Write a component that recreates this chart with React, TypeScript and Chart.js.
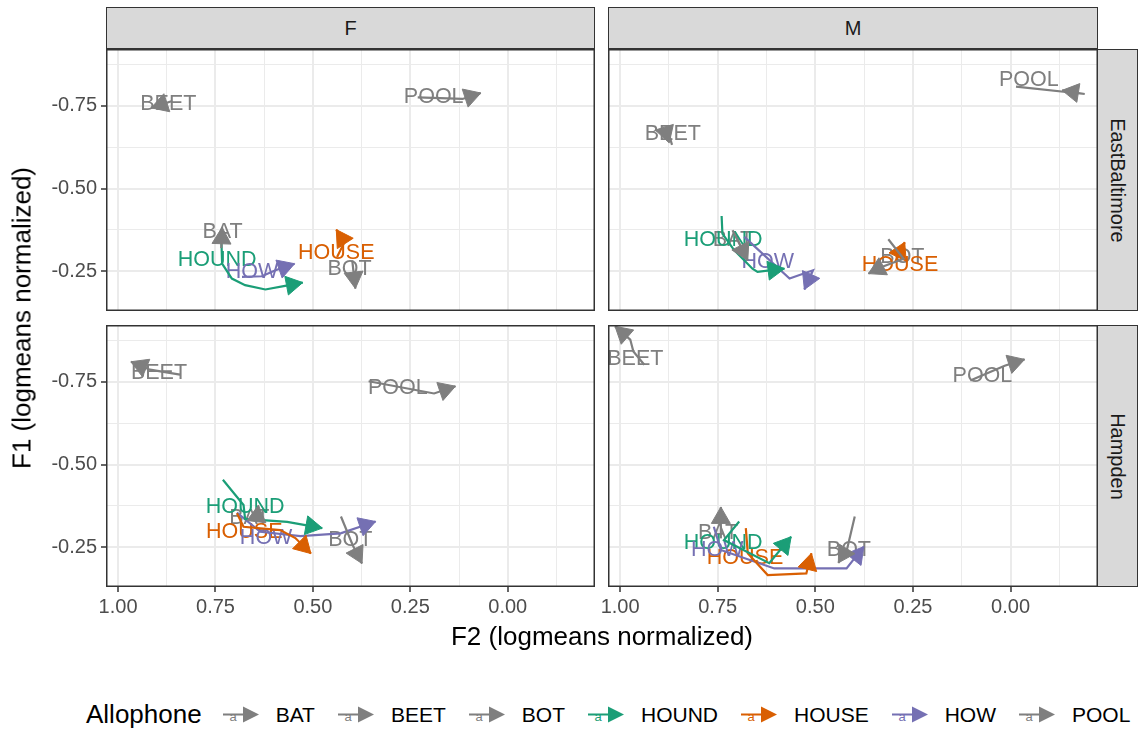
import React, { useEffect, useRef } from "react";
import { Chart, registerables } from "chart.js";

Chart.register(...registerables);

const FONT = "'Liberation Sans', Arial, Helvetica, sans-serif";

// ---------- categories & styles ----------
const allophones = ["BAT", "BEET", "BOT", "HOUND", "HOUSE", "HOW", "POOL"];
const allophoneColors = ["#7F7F7F", "#7F7F7F", "#7F7F7F", "#1B9E77", "#D95F02", "#7570B3", "#7F7F7F"];

// ---------- axes ----------
const f2Breaks = [-0.125, 0, 0.125, 0.25, 0.375, 0.5, 0.625, 0.75, 0.875, 1];
const f1Breaks = [-0.875, -0.75, -0.625, -0.5, -0.375, -0.25, -0.125];
const f2Limits = [-0.224, 1.031];
const f1Limits = [-0.922, -0.13];

// ---------- F / EastBaltimore (order: BAT, BEET, BOT, HOUND, HOUSE, HOW, POOL) ----------
const fEastBaltimoreF2 = [
  [0.735, 0.733],
  [0.861, 0.915],
  [0.399, 0.391],
  [0.735, 0.733, 0.708, 0.674, 0.622, 0.575, 0.526],
  [0.438, 0.419, 0.44],
  [0.682, 0.631, 0.596, 0.547],
  [0.231, 0.116, 0.069],
];
const fEastBaltimoreF1 = [
  [-0.32, -0.383],
  [-0.765, -0.744],
  [-0.283, -0.198],
  [-0.349, -0.273, -0.228, -0.208, -0.195, -0.205, -0.216],
  [-0.293, -0.338, -0.376],
  [-0.233, -0.235, -0.253, -0.273],
  [-0.776, -0.771, -0.789],
];
const fEastBaltimoreLabelF2 = [0.732, 0.871, 0.406, 0.746, 0.44, 0.656, 0.19];
const fEastBaltimoreLabelF1 = [-0.369, -0.756, -0.258, -0.283, -0.304, -0.248, -0.776];

// ---------- M / EastBaltimore ----------
const mEastBaltimoreF2 = [
  [0.712, 0.673],
  [0.867, 0.876, 0.91],
  [0.313, 0.274, 0.33, 0.364],
  [0.74, 0.738, 0.708, 0.661, 0.648, 0.579],
  [0.296, 0.271],
  [0.682, 0.566, 0.506, 0.528],
  [-0.014, -0.19, -0.132],
];
const mEastBaltimoreF1 = [
  [-0.374, -0.283],
  [-0.632, -0.668, -0.677],
  [-0.347, -0.288, -0.263, -0.243],
  [-0.417, -0.364, -0.314, -0.258, -0.248, -0.258],
  [-0.277, -0.338],
  [-0.354, -0.228, -0.253, -0.195],
  [-0.808, -0.786, -0.797],
];
const mEastBaltimoreLabelF2 = [0.711, 0.865, 0.277, 0.736, 0.283, 0.622, -0.047];
const mEastBaltimoreLabelF1 = [-0.344, -0.664, -0.293, -0.344, -0.268, -0.278, -0.828];

// ---------- F / Hampden ----------
const fHampdenF2 = [
  [0.645, 0.64],
  [0.841, 0.918, 0.967],
  [0.428, 0.398, 0.374],
  [0.731, 0.678, 0.674, 0.566, 0.476],
  [0.695, 0.678, 0.584, 0.545, 0.505],
  [0.695, 0.635, 0.532, 0.429, 0.339],
  [0.357, 0.189, 0.134],
];
const fHampdenF1 = [
  [-0.327, -0.377],
  [-0.772, -0.787, -0.811],
  [-0.343, -0.257, -0.201],
  [-0.454, -0.378, -0.336, -0.327, -0.308],
  [-0.353, -0.312, -0.302, -0.278, -0.231],
  [-0.355, -0.297, -0.284, -0.292, -0.328],
  [-0.752, -0.715, -0.737],
];
const fHampdenLabelF2 = [0.663, 0.895, 0.404, 0.674, 0.676, 0.62, 0.282];
const fHampdenLabelF1 = [-0.338, -0.777, -0.272, -0.373, -0.297, -0.277, -0.732];

// ---------- M / Hampden ----------
const mHampdenF2 = [
  [0.742, 0.742],
  [0.938, 0.966, 0.974, 1.013],
  [0.399, 0.418, 0.441],
  [0.695, 0.734, 0.618, 0.562],
  [0.678, 0.673, 0.622, 0.523, 0.51],
  [0.76, 0.742, 0.605, 0.42, 0.376],
  [0.103, 0.015, -0.036],
];
const mHampdenF1 = [
  [-0.277, -0.372],
  [-0.802, -0.842, -0.878, -0.918],
  [-0.343, -0.248, -0.203],
  [-0.328, -0.272, -0.202, -0.282],
  [-0.308, -0.232, -0.166, -0.171, -0.232],
  [-0.312, -0.242, -0.186, -0.186, -0.252],
  [-0.754, -0.799, -0.818],
];
const mHampdenLabelF2 = [0.749, 0.961, 0.414, 0.736, 0.68, 0.751, 0.072];
const mHampdenLabelF1 = [-0.292, -0.818, -0.242, -0.262, -0.217, -0.242, -0.767];

const isMajor = (v: number) => Math.abs(v * 4 - Math.round(v * 4)) < 1e-6;

type PanelProps = {
  f2: number[][];
  f1: number[][];
  labelF2: number[];
  labelF1: number[];
  left: number;
  top: number;
  width: number;
  height: number;
  yAxisWidth: number;
  xAxisHeight: number;
  showY: boolean;
  showX: boolean;
};

function Panel(p: PanelProps) {
  const ref = useRef<HTMLCanvasElement>(null);
  useEffect(() => {
    const clipArea = (chart: any) => {
      const a = chart.chartArea;
      chart.ctx.beginPath();
      chart.ctx.rect(a.left, a.top, a.right - a.left, a.bottom - a.top);
      chart.ctx.clip();
    };
    const decor = {
      id: "pathDecor",
      beforeDatasetsDraw(chart: any) {
        const { ctx, scales } = chart;
        ctx.save();
        clipArea(chart);
        ctx.font = `21.5px ${FONT}`;
        ctx.textAlign = "center";
        ctx.textBaseline = "middle";
        allophones.forEach((name, i) => {
          ctx.fillStyle = allophoneColors[i];
          ctx.fillText(name, scales.x.getPixelForValue(p.labelF2[i]), scales.y.getPixelForValue(p.labelF1[i]));
        });
        ctx.restore();
      },
      afterDatasetDraw(chart: any, args: any) {
        const pts = args.meta.data;
        if (pts.length < 2) return;
        const tip = pts[pts.length - 1];
        const prev = pts[pts.length - 2];
        const ang = Math.atan2(tip.y - prev.y, tip.x - prev.x);
        const side = 19;
        const depth = side * Math.cos(Math.PI / 6);
        const half = side * Math.sin(Math.PI / 6);
        const bx = tip.x - depth * Math.cos(ang);
        const by = tip.y - depth * Math.sin(ang);
        const ctx = chart.ctx;
        const col = allophoneColors[args.index];
        ctx.save();
        clipArea(chart);
        ctx.fillStyle = col;
        ctx.strokeStyle = col;
        ctx.lineWidth = 1;
        ctx.beginPath();
        ctx.moveTo(tip.x, tip.y);
        ctx.lineTo(bx + half * Math.sin(ang), by - half * Math.cos(ang));
        ctx.lineTo(bx - half * Math.sin(ang), by + half * Math.cos(ang));
        ctx.closePath();
        ctx.fill();
        ctx.stroke();
        ctx.restore();
      },
      afterDraw(chart: any) {
        const a = chart.chartArea;
        const ctx = chart.ctx;
        ctx.save();
        ctx.strokeStyle = "#333333";
        ctx.lineWidth = 1.5;
        ctx.strokeRect(a.left + 0.75, a.top + 0.75, a.right - a.left - 1.5, a.bottom - a.top - 1.5);
        ctx.restore();
      },
    };

    const zeroPad = (s: any) => {
      s.paddingLeft = 0;
      s.paddingRight = 0;
      s.paddingTop = 0;
      s.paddingBottom = 0;
    };

    const chart = new Chart(ref.current as HTMLCanvasElement, {
      type: "scatter",
      data: {
        datasets: allophones.map((name, i) => ({
          label: name,
          data: p.f2[i].map((x, j) => ({ x, y: p.f1[i][j] })),
          showLine: true,
          borderColor: allophoneColors[i],
          backgroundColor: allophoneColors[i],
          borderWidth: 2.2,
          pointRadius: 0,
          pointHoverRadius: 0,
          tension: 0,
        })),
      },
      options: {
        animation: false,
        responsive: false,
        events: [],
        layout: { padding: 0 },
        plugins: { legend: { display: false }, tooltip: { enabled: false } },
        scales: {
          x: {
            type: "linear",
            reverse: true,
            bounds: "data",
            min: f2Limits[0],
            max: f2Limits[1],
            afterBuildTicks: (s: any) => {
              s.ticks = f2Breaks.filter((v) => v >= s.min && v <= s.max).map((v) => ({ value: v }));
            },
            ticks: {
              display: p.showX,
              autoSkip: false,
              maxRotation: 0,
              padding: 3,
              color: "#4D4D4D",
              font: { size: 20, family: FONT },
              callback: (v: any) => (isMajor(Number(v)) ? Number(v).toFixed(2) : ""),
            },
            grid: {
              color: "#EBEBEB",
              lineWidth: (c: any) => (c.tick && isMajor(c.tick.value) ? 2 : 1),
              drawTicks: p.showX,
              tickLength: 5,
              tickWidth: 1.5,
              tickColor: (c: any) => (c.tick && isMajor(c.tick.value) ? "#333333" : "rgba(0,0,0,0)"),
            },
            border: { display: false },
            afterFit: (s: any) => {
              s.height = p.xAxisHeight;
              zeroPad(s);
            },
          },
          y: {
            type: "linear",
            reverse: true,
            bounds: "data",
            min: f1Limits[0],
            max: f1Limits[1],
            afterBuildTicks: (s: any) => {
              s.ticks = f1Breaks.filter((v) => v >= s.min && v <= s.max).map((v) => ({ value: v }));
            },
            ticks: {
              display: p.showY,
              autoSkip: false,
              padding: 4,
              color: "#4D4D4D",
              font: { size: 20, family: FONT },
              callback: (v: any) => (isMajor(Number(v)) ? Number(v).toFixed(2) : ""),
            },
            grid: {
              color: "#EBEBEB",
              lineWidth: (c: any) => (c.tick && isMajor(c.tick.value) ? 2 : 1),
              drawTicks: p.showY,
              tickLength: 5,
              tickWidth: 1.5,
              tickColor: (c: any) => (c.tick && isMajor(c.tick.value) ? "#333333" : "rgba(0,0,0,0)"),
            },
            border: { display: false },
            afterFit: (s: any) => {
              s.width = p.yAxisWidth;
              zeroPad(s);
            },
          },
        },
      } as any,
      plugins: [decor],
    });
    return () => chart.destroy();
  }, []);
  return (
    <canvas
      ref={ref}
      width={p.width}
      height={p.height}
      style={{ position: "absolute", left: p.left, top: p.top, width: p.width, height: p.height }}
    />
  );
}

const stripBase: React.CSSProperties = {
  position: "absolute",
  boxSizing: "border-box",
  background: "#D9D9D9",
  border: "1.5px solid #333333",
  color: "#1A1A1A",
  fontFamily: FONT,
  fontSize: 20,
  display: "flex",
  alignItems: "center",
  justifyContent: "center",
};

function LegendKey({ color }: { color: string }) {
  return (
    <svg width={40} height={24} style={{ display: "block" }}>
      <text x={12} y={18} fontSize={13} fill={color} fontFamily={FONT} textAnchor="middle">
        a
      </text>
      <line x1={2} y1={12} x2={26} y2={12} stroke={color} strokeWidth={2.2} />
      <polygon points="38,12 22,4 22,20" fill={color} />
    </svg>
  );
}

export default function App() {
  return (
    <div
      style={{
        position: "absolute",
        left: 0,
        top: 0,
        width: 1138,
        height: 734,
        background: "#FFFFFF",
        overflow: "hidden",
        fontFamily: FONT,
      }}
    >
      {/* top strips */}
      <div style={{ ...stripBase, left: 106, top: 7, width: 489, height: 42 }}>F</div>
      <div style={{ ...stripBase, left: 608, top: 7, width: 490, height: 42 }}>M</div>
      {/* right strips */}
      <div style={{ ...stripBase, left: 1097, top: 49, width: 41, height: 262 }}>
        <span style={{ transform: "rotate(90deg)", whiteSpace: "nowrap" }}>EastBaltimore</span>
      </div>
      <div style={{ ...stripBase, left: 1097, top: 325, width: 41, height: 262 }}>
        <span style={{ transform: "rotate(90deg)", whiteSpace: "nowrap" }}>Hampden</span>
      </div>

      <Panel
        f2={fEastBaltimoreF2}
        f1={fEastBaltimoreF1}
        labelF2={fEastBaltimoreLabelF2}
        labelF1={fEastBaltimoreLabelF1}
        left={0}
        top={49}
        width={595}
        height={262}
        yAxisWidth={106}
        xAxisHeight={0}
        showY={true}
        showX={false}
      />
      <Panel
        f2={mEastBaltimoreF2}
        f1={mEastBaltimoreF1}
        labelF2={mEastBaltimoreLabelF2}
        labelF1={mEastBaltimoreLabelF1}
        left={578}
        top={49}
        width={520}
        height={262}
        yAxisWidth={30}
        xAxisHeight={0}
        showY={false}
        showX={false}
      />
      <Panel
        f2={fHampdenF2}
        f1={fHampdenF1}
        labelF2={fHampdenLabelF2}
        labelF1={fHampdenLabelF1}
        left={0}
        top={325}
        width={595}
        height={310}
        yAxisWidth={106}
        xAxisHeight={48}
        showY={true}
        showX={true}
      />
      <Panel
        f2={mHampdenF2}
        f1={mHampdenF1}
        labelF2={mHampdenLabelF2}
        labelF1={mHampdenLabelF1}
        left={578}
        top={325}
        width={520}
        height={310}
        yAxisWidth={30}
        xAxisHeight={48}
        showY={false}
        showX={true}
      />

      {/* axis titles */}
      <div
        style={{
          position: "absolute",
          left: 22,
          top: 318,
          transform: "translate(-50%, -50%) rotate(-90deg)",
          whiteSpace: "nowrap",
          fontSize: 26,
          color: "#000",
        }}
      >
        F1 (logmeans normalized)
      </div>
      <div
        style={{
          position: "absolute",
          left: 602,
          top: 636,
          transform: "translate(-50%, -50%)",
          whiteSpace: "nowrap",
          fontSize: 26,
          color: "#000",
        }}
      >
        F2 (logmeans normalized)
      </div>

      {/* legend */}
      <div
        style={{
          position: "absolute",
          left: 86,
          top: 714,
          transform: "translateY(-50%)",
          display: "flex",
          alignItems: "center",
          whiteSpace: "nowrap",
        }}
      >
        <span style={{ fontSize: 26, color: "#000", marginRight: 19 }}>Allophone</span>
        {allophones.map((name, i) => (
          <span key={name} style={{ display: "flex", alignItems: "center", marginRight: 21 }}>
            <LegendKey color={allophoneColors[i]} />
            <span style={{ fontSize: 21, color: "#000", marginLeft: 15 }}>{name}</span>
          </span>
        ))}
      </div>
    </div>
  );
}
